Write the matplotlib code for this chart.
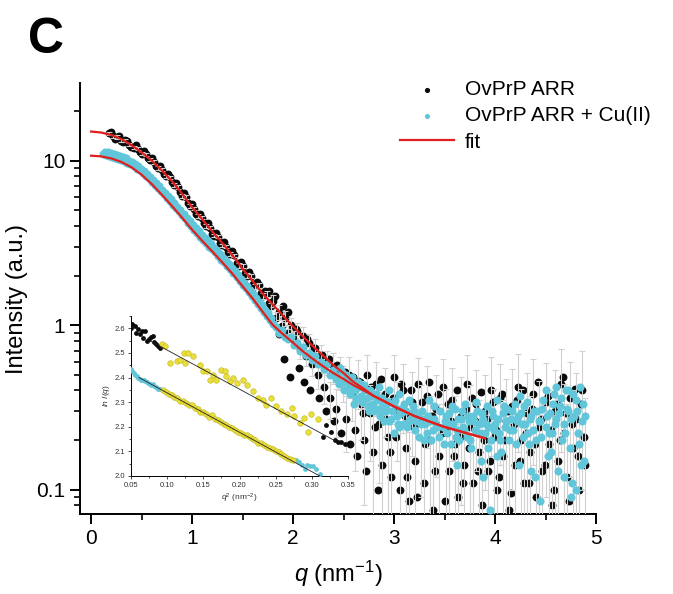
import numpy as np
import matplotlib
matplotlib.use('Agg')
import matplotlib.pyplot as plt
from matplotlib.ticker import FixedLocator, NullFormatter, MultipleLocator, LogLocator

plt.rcParams['font.family'] = ['Liberation Sans', 'DejaVu Sans']
plt.rcParams['mathtext.fontset'] = 'custom'
plt.rcParams['mathtext.rm'] = 'Liberation Sans'
plt.rcParams['mathtext.it'] = 'Liberation Sans:italic'

# ---- main panel data ----
# OvPrP ARR, low q, dense part
black_q_dense = [0.18, 0.22, 0.26, 0.30, 0.34, 0.38, 0.42, 0.46, 0.50, 0.54, 0.58, 0.62, 0.66, 0.70,
                 0.74, 0.78, 0.82, 0.86, 0.90, 0.94, 0.98, 1.02, 1.06, 1.10, 1.14, 1.18, 1.22, 1.26,
                 1.30, 1.34, 1.38, 1.42, 1.46, 1.50, 1.54, 1.58, 1.62, 1.66, 1.70, 1.74, 1.78]
black_I_dense = [14.6, 14.0, 13.9, 13.2, 13.3, 12.5, 12.0, 11.8, 11.0, 10.9, 10.1, 9.8, 9.0, 8.8,
                 8.0, 7.9, 7.1, 6.9, 6.1, 6.0, 5.3, 5.1, 4.6, 4.5, 4.0, 3.9, 3.5, 3.45,
                 3.05, 3.0, 2.7, 2.65, 2.3, 2.28, 2.0, 1.98, 1.72, 1.75, 1.50, 1.55, 1.30]
black_err_dense = [0.3, 0.3, 0.3, 0.3, 0.3, 0.28, 0.27, 0.26, 0.25, 0.24, 0.23, 0.22, 0.21, 0.2,
                   0.19, 0.18, 0.17, 0.16, 0.15, 0.14, 0.13, 0.12, 0.11, 0.1, 0.1, 0.09, 0.09, 0.08,
                   0.08, 0.08, 0.07, 0.07, 0.07, 0.07, 0.06, 0.06, 0.06, 0.06, 0.06, 0.06, 0.06]
black_q_dense2 = [0.20, 0.24, 0.28, 0.32, 0.36, 0.40, 0.44, 0.48, 0.52, 0.56, 0.60, 0.64, 0.68, 0.72,
                  0.76, 0.80, 0.84, 0.88, 0.92, 0.96, 1.00, 1.04, 1.08, 1.12, 1.16, 1.20, 1.24, 1.28,
                  1.32, 1.36, 1.40, 1.44, 1.48, 1.52, 1.56, 1.60, 1.64, 1.68, 1.72, 1.76,
                  1.76, 1.82, 1.90, 1.95, 1.86]
black_I_dense2 = [14.9, 13.6, 14.1, 12.9, 13.2, 12.1, 12.4, 11.2, 11.4, 10.3, 10.4, 9.3, 9.3, 8.3,
                  8.3, 7.4, 7.3, 6.4, 6.35, 5.55, 5.45, 4.75, 4.75, 4.15, 4.15, 3.6, 3.65, 3.15,
                  3.2, 2.78, 2.8, 2.38, 2.42, 2.06, 2.1, 1.78, 1.82, 1.56, 1.6, 1.36,
                  1.62, 1.5, 1.3, 1.2, 0.88]

# OvPrP ARR, high q, noisy part
black_q_far = [1.80, 1.83, 1.86, 1.89, 1.92, 1.95, 1.98, 2.01, 2.04, 2.07, 2.10, 2.13, 2.16, 2.19,
               2.22, 2.25, 2.28, 2.31, 2.34, 2.37, 2.40, 2.43, 2.46, 2.49, 2.52, 2.55, 2.58, 2.61,
               2.64, 2.67, 2.70, 2.73, 2.76, 2.79, 2.82, 2.85, 2.88, 2.91, 2.94, 2.97, 3.00, 3.03,
               3.06, 3.09, 3.12, 3.15, 3.18, 3.21, 3.24, 3.27, 3.30, 3.33, 3.36, 3.39, 3.42, 3.45,
               3.48, 3.51, 3.54, 3.57, 3.60, 3.63, 3.66, 3.69, 3.72, 3.75, 3.78, 3.81, 3.84, 3.87,
               3.90, 3.93, 3.96, 3.99, 4.02, 4.05, 4.08, 4.11, 4.14, 4.17, 4.20, 4.23, 4.26, 4.29,
               4.32, 4.35, 4.38, 4.41, 4.44, 4.47, 4.50, 4.53, 4.56, 4.59, 4.62, 4.65, 4.68, 4.71,
               4.74, 4.77, 4.80, 4.83, 4.86, 4.89]
black_I_far = [1.4, 1.1, 1.2, 0.98, 1.1, 0.9, 1.0, 0.82, 0.92, 0.72, 0.86, 0.65, 0.78, 0.58,
               0.72, 0.5, 0.66, 0.42, 0.6, 0.36, 0.56, 0.31, 0.52, 0.45, 0.27, 0.5, 0.38, 0.23,
               0.46, 0.33, 0.2, 0.5, 0.29, 0.17, 0.44, 0.25, 0.14, 0.38, 0.21, 0.12, 0.48, 0.3,
               0.1, 0.4, 0.18, 0.085, 0.34, 0.15, 0.44, 0.26, 0.11, 0.37, 0.2, 0.075, 0.31, 0.16,
               0.42, 0.23, 0.13, 0.35, 0.19, 0.09, 0.28, 0.14, 0.44, 0.24, 0.11, 0.33, 0.17, 0.08,
               0.3, 0.13, 0.4, 0.21, 0.1, 0.36, 0.16, 0.26, 0.075, 0.32, 0.14, 0.42, 0.2, 0.11,
               0.29, 0.17, 0.38, 0.09, 0.24, 0.13, 0.34, 0.19, 0.08, 0.3, 0.15, 0.44, 0.22, 0.12,
               0.36, 0.18, 0.27, 0.1, 0.4, 0.14]
black_err_far = [0.12, 0.1, 0.12, 0.1, 0.12, 0.1, 0.11, 0.1, 0.11, 0.1, 0.11, 0.09, 0.1, 0.09,
                 0.1, 0.09, 0.1, 0.09, 0.1, 0.09, 0.12, 0.1, 0.12, 0.11, 0.1, 0.14, 0.12, 0.1,
                 0.15, 0.13, 0.12, 0.16, 0.14, 0.12, 0.16, 0.14, 0.13, 0.17, 0.15, 0.13, 0.18, 0.15,
                 0.14, 0.18, 0.16, 0.14, 0.18, 0.16, 0.19, 0.17, 0.15, 0.19, 0.17, 0.15, 0.19, 0.17,
                 0.2, 0.18, 0.16, 0.2, 0.18, 0.16, 0.2, 0.18, 0.22, 0.19, 0.17, 0.2, 0.18, 0.17,
                 0.2, 0.18, 0.24, 0.2, 0.18, 0.22, 0.19, 0.21, 0.18, 0.22, 0.2, 0.25, 0.21, 0.19,
                 0.22, 0.2, 0.24, 0.2, 0.22, 0.2, 0.25, 0.21, 0.2, 0.23, 0.21, 0.27, 0.22, 0.21,
                 0.24, 0.22, 0.24, 0.21, 0.3, 0.22]
black_q_far2 = [1.91, 1.97, 2.03, 2.06, 2.11, 2.14, 2.17, 2.21, 2.26, 2.29, 2.33, 2.36, 2.41, 2.44,
                2.47, 2.51, 2.56, 2.59, 2.63, 2.66, 2.69, 2.72, 2.77, 2.81, 2.84, 2.87, 2.92, 2.96,
                2.99, 3.02, 3.07, 3.11, 3.13, 3.17, 3.20, 3.23, 3.28, 3.31, 3.35, 3.38, 3.41, 3.44,
                3.47, 3.50, 3.53, 3.56, 3.59, 3.62, 3.65, 3.68, 3.71, 3.74, 3.77, 3.80, 3.83, 3.86,
                3.89, 3.92, 3.95, 3.98, 4.01, 4.04, 4.07, 4.10, 4.13, 4.16, 4.19, 4.22, 4.25, 4.28,
                4.31, 4.34, 4.37, 4.40, 4.43, 4.46, 4.49, 4.52, 4.55, 4.58, 4.61, 4.64, 4.67, 4.70,
                4.73, 4.76, 4.79, 4.82, 4.85, 4.88]
black_I_far2 = [0.62, 0.48, 0.95, 0.55, 0.45, 0.82, 0.4, 0.72, 0.36, 0.66, 0.3, 0.62, 0.26, 0.57,
                0.22, 0.52, 0.19, 0.48, 0.16, 0.45, 0.29, 0.13, 0.42, 0.24, 0.1, 0.47, 0.27, 0.17,
                0.36, 0.21, 0.44, 0.28, 0.12, 0.4, 0.24, 0.09, 0.34, 0.19, 0.45, 0.28, 0.13, 0.38,
                0.22, 0.085, 0.33, 0.26, 0.16, 0.4, 0.21, 0.11, 0.31, 0.18, 0.36, 0.26, 0.13, 0.39,
                0.2, 0.27, 0.15, 0.34, 0.23, 0.12, 0.38, 0.2, 0.3, 0.095, 0.25, 0.35, 0.15, 0.4,
                0.22, 0.11, 0.31, 0.19, 0.45, 0.27, 0.14, 0.37, 0.23, 0.1, 0.33, 0.2, 0.48, 0.29,
                0.085, 0.25, 0.41, 0.16, 0.33, 0.21]

# OvPrP ARR + Cu(II)
cyan_q = [0.12, 0.15, 0.18, 0.21, 0.24, 0.27, 0.30, 0.33, 0.36, 0.39, 0.42, 0.45, 0.48, 0.51,
          0.54, 0.57, 0.60, 0.63, 0.66, 0.69, 0.72, 0.75, 0.78, 0.81, 0.84, 0.87, 0.90, 0.93,
          0.96, 0.99, 1.02, 1.05, 1.08, 1.11, 1.14, 1.17, 1.20, 1.23, 1.26, 1.29, 1.32, 1.35,
          1.38, 1.41, 1.44, 1.47, 1.50, 1.53, 1.56, 1.59, 1.62, 1.65, 1.68, 1.71, 1.74, 1.77,
          1.80, 1.83, 1.86, 1.89, 1.92, 1.95, 1.98, 2.01, 2.04, 2.07, 2.10, 2.13, 2.16, 2.19,
          2.22, 2.25, 2.28, 2.31, 2.34, 2.37, 2.40, 2.43, 2.46, 2.49, 2.52, 2.55, 2.58, 2.61,
          2.64, 2.67, 2.70, 2.73, 2.76, 2.79, 2.82, 2.85, 2.88, 2.91, 2.94, 2.97, 3.00, 3.03,
          3.06, 3.09, 3.12, 3.15, 3.18, 3.21, 3.24, 3.27, 3.30, 3.33, 3.36, 3.39, 3.42, 3.45,
          3.48, 2.60, 2.75, 2.90, 3.05, 3.20, 3.30, 3.40, 3.00, 3.15, 2.85,
          3.50, 3.52, 3.54, 3.56, 3.58, 3.60, 3.62, 3.64, 3.66, 3.68, 3.70, 3.72, 3.74, 3.76,
          3.78, 3.80, 3.82, 3.84, 3.86, 3.88, 3.90, 3.92, 3.94, 3.96, 3.98, 4.00, 4.02, 4.04,
          4.06, 4.08, 4.10, 4.12, 4.14, 4.16, 4.18, 4.20, 4.22, 4.24, 4.26, 4.28, 4.30, 4.32,
          4.34, 4.36, 4.38, 4.40, 4.42, 4.44, 4.46, 4.48, 4.50, 4.52, 4.54, 4.56, 4.58, 4.60,
          4.62, 4.64, 4.66, 4.68, 4.70, 4.72, 4.74, 4.76, 4.78, 4.80, 4.82, 4.84, 4.86, 4.88,
          3.95, 4.45, 4.75]
cyan_I = [10.9, 10.8, 10.7, 10.5, 10.4, 10.2, 10.1, 9.9, 9.7, 9.5, 9.2, 8.9, 8.7, 8.35,
          8.1, 7.8, 7.45, 7.1, 6.85, 6.5, 6.25, 5.95, 5.65, 5.4, 5.15, 4.9, 4.65, 4.45,
          4.2, 4.0, 3.8, 3.65, 3.45, 3.3, 3.15, 3.0, 2.9, 2.76, 2.64, 2.5, 2.4, 2.28,
          2.18, 2.08, 1.96, 1.86, 1.76, 1.67, 1.58, 1.5, 1.42, 1.35, 1.27, 1.2, 1.13, 1.07,
          1.01, 0.97, 0.9, 0.93, 0.85, 0.82, 0.84, 0.76, 0.78, 0.7, 0.74, 0.66, 0.68, 0.61,
          0.65, 0.58, 0.6, 0.54, 0.58, 0.5, 0.53, 0.47, 0.55, 0.45, 0.5, 0.42, 0.48, 0.4,
          0.45, 0.37, 0.43, 0.36, 0.4, 0.33, 0.38, 0.31, 0.36, 0.3, 0.34, 0.27, 0.33, 0.28,
          0.31, 0.25, 0.3, 0.26, 0.29, 0.23, 0.28, 0.25, 0.27, 0.22, 0.26, 0.23, 0.25, 0.21,
          0.24, 0.33, 0.3, 0.26, 0.24, 0.3, 0.2, 0.32, 0.22, 0.35, 0.42,
          0.26, 0.22, 0.29, 0.19, 0.25, 0.31, 0.23, 0.2, 0.27, 0.24, 0.33, 0.21, 0.26, 0.18,
          0.28, 0.23, 0.3, 0.25, 0.15, 0.27, 0.22, 0.32, 0.24, 0.2, 0.28, 0.25, 0.35, 0.22,
          0.17, 0.29, 0.24, 0.31, 0.2, 0.27, 0.23, 0.33, 0.26, 0.14, 0.29, 0.21, 0.25, 0.34,
          0.19, 0.28, 0.23, 0.12, 0.3, 0.26, 0.21, 0.35, 0.24, 0.16, 0.29, 0.22, 0.38, 0.27,
          0.13, 0.32, 0.2, 0.25, 0.4, 0.3, 0.18, 0.11, 0.28, 0.35, 0.22, 0.42, 0.26, 0.15,
          0.075, 0.085, 0.09]
cyan_q2 = [0.135, 0.165, 0.195, 0.225, 0.255, 0.285, 0.315, 0.345, 0.375, 0.405, 0.435, 0.465,
           0.495, 0.525, 0.555, 0.585, 0.615, 0.645, 0.675, 0.705, 0.735, 0.765, 0.795, 0.825,
           0.855, 0.885, 0.915, 0.945, 0.975, 1.005, 1.035, 1.065, 1.095, 1.125, 1.155, 1.185,
           1.215, 1.245, 1.275, 1.305, 1.335, 1.365, 1.395, 1.425, 1.455, 1.485, 1.515, 1.545,
           1.575, 1.605, 1.635, 1.665, 1.695, 1.725, 1.755, 1.785,
           2.42, 2.45, 2.48, 2.50, 2.53, 2.56, 2.59, 2.62, 2.65, 2.68, 2.71, 2.74, 2.77, 2.80,
           2.83, 2.86, 2.89, 2.92, 2.95, 2.98, 3.01, 3.04, 3.07, 3.10, 3.13, 3.16, 3.19, 3.22,
           3.25, 3.28, 3.31, 3.34, 3.37, 3.40, 3.43, 3.46, 3.49, 3.51, 3.55, 3.57, 3.61, 3.63,
           3.67, 3.69, 3.73, 3.75, 3.79, 3.81, 3.85, 3.87, 3.91, 3.93, 3.97, 3.99, 4.03, 4.05,
           4.09, 4.11, 4.15, 4.17, 4.21, 4.23, 4.27, 4.29, 4.33, 4.35, 4.39, 4.41, 4.45, 4.47,
           4.51, 4.53, 4.57, 4.59, 4.63, 4.65, 4.69, 4.71, 4.75, 4.77, 4.81, 4.83, 4.87, 4.89,
           3.62, 3.88, 4.02, 4.36, 4.55, 4.68, 4.80, 4.85, 4.60, 4.72, 4.50, 4.25, 3.35, 3.05,
           2.95]
cyan_I2 = [11.3, 11.2, 11.1, 11.0, 10.8, 10.7, 10.5, 10.3, 10.0, 9.8, 9.5, 9.2,
           8.9, 8.6, 8.3, 7.95, 7.6, 7.3, 7.0, 6.65, 6.35, 6.05, 5.8, 5.5,
           5.25, 5.0, 4.75, 4.5, 4.3, 4.08, 3.9, 3.72, 3.55, 3.38, 3.24, 3.1,
           2.96, 2.83, 2.7, 2.57, 2.46, 2.34, 2.23, 2.12, 2.02, 1.91, 1.81, 1.72,
           1.63, 1.55, 1.47, 1.39, 1.32, 1.24, 1.18, 1.11,
           0.5, 0.44, 0.52, 0.4, 0.46, 0.38, 0.44, 0.36, 0.42, 0.34, 0.4, 0.32, 0.37, 0.3,
           0.35, 0.28, 0.33, 0.32, 0.26, 0.3, 0.35, 0.25, 0.29, 0.33, 0.24, 0.27, 0.32, 0.26,
           0.21, 0.3, 0.25, 0.28, 0.2, 0.27, 0.24, 0.3, 0.19, 0.28, 0.25, 0.32, 0.21, 0.27,
           0.3, 0.23, 0.28, 0.2, 0.26, 0.34, 0.22, 0.29, 0.25, 0.18, 0.3, 0.23, 0.27, 0.2,
           0.32, 0.26, 0.23, 0.3, 0.19, 0.28, 0.25, 0.32, 0.22, 0.27, 0.3, 0.2, 0.26, 0.31,
           0.28, 0.22, 0.33, 0.25, 0.29, 0.36, 0.22, 0.31, 0.27, 0.38, 0.3, 0.19, 0.33, 0.28,
           0.14, 0.12, 0.16, 0.13, 0.17, 0.12, 0.1, 0.14, 0.42, 0.4, 0.4, 0.37, 0.35, 0.38,
           0.4]

# fits
fit_q = [0.0, 0.1, 0.2, 0.3, 0.4, 0.5, 0.6, 0.7, 0.8, 0.9, 1.0, 1.1, 1.2, 1.3, 1.4, 1.5, 1.6,
         1.7, 1.8, 1.9, 2.0, 2.1, 2.2, 2.3, 2.4, 2.5, 2.6, 2.7, 2.8, 2.9, 3.0, 3.2, 3.5, 3.9]
fit_black = [15.0, 14.8, 14.3, 13.5, 12.4, 11.2, 10.0, 8.7, 7.5, 6.3, 5.2, 4.4, 3.7, 3.15,
             2.65, 2.2, 1.85, 1.55, 1.33, 1.14, 0.98, 0.85, 0.74, 0.65, 0.57, 0.51, 0.45,
             0.41, 0.37, 0.345, 0.32, 0.28, 0.24, 0.205]
fit_cyan = [10.7, 10.6, 10.3, 9.8, 9.1, 8.2, 7.2, 6.2, 5.3, 4.5, 3.8, 3.25, 2.8, 2.4,
            2.05, 1.72, 1.45, 1.2, 1.0, 0.88, 0.78, 0.69, 0.62, 0.56, 0.51, 0.47, 0.43,
            0.40, 0.37, 0.345, 0.32, 0.28, 0.24, 0.205]

# ---- inset (Guinier) data ----
top_q2 = [0.050, 0.052, 0.055, 0.057, 0.060, 0.062, 0.065, 0.067, 0.070, 0.072, 0.075, 0.077,
          0.080, 0.082, 0.085, 0.087, 0.090,
          0.093, 0.097, 0.104, 0.113, 0.118, 0.123, 0.125, 0.129, 0.136, 0.146, 0.150, 0.155,
          0.159, 0.164, 0.168, 0.175, 0.180, 0.182, 0.187, 0.191, 0.196, 0.205, 0.210, 0.219,
          0.226, 0.233, 0.237, 0.244, 0.251, 0.258, 0.265, 0.272, 0.276, 0.283, 0.289, 0.295,
          0.299, 0.309,
          0.315, 0.320, 0.326, 0.332, 0.336, 0.340, 0.346]
top_lnI = [2.600, 2.616, 2.610, 2.580, 2.596, 2.576, 2.590, 2.560, 2.590, 2.550, 2.556, 2.566,
           2.570, 2.545, 2.535, 2.530, 2.520,
           2.535, 2.530, 2.460, 2.466, 2.470, 2.500, 2.460, 2.500, 2.487, 2.450, 2.426, 2.426,
           2.390, 2.410, 2.390, 2.430, 2.426, 2.405, 2.385, 2.400, 2.378, 2.390, 2.370, 2.345,
           2.317, 2.310, 2.290, 2.317, 2.283, 2.263, 2.250, 2.276, 2.242, 2.215, 2.235, 2.180,
           2.250, 2.230,
           2.160, 2.208, 2.180, 2.147, 2.140, 2.140, 2.130]
bot_q2 = [0.050, 0.052, 0.054, 0.056, 0.058, 0.060, 0.062, 0.064, 0.066, 0.068, 0.070, 0.072,
          0.074, 0.076, 0.078, 0.080, 0.082, 0.084, 0.086, 0.088, 0.090,
          0.094, 0.098, 0.102, 0.106, 0.110, 0.114, 0.118, 0.122, 0.126, 0.130, 0.134, 0.138,
          0.142, 0.146, 0.150, 0.154, 0.158, 0.162, 0.166, 0.170, 0.174, 0.178, 0.182, 0.186,
          0.190, 0.194, 0.198, 0.202, 0.206, 0.210, 0.214, 0.218, 0.222, 0.226, 0.230, 0.234,
          0.238, 0.242, 0.246, 0.250, 0.254, 0.258, 0.262, 0.266, 0.270, 0.274,
          0.278, 0.282, 0.286, 0.290, 0.294, 0.298, 0.302, 0.306, 0.311]
bot_lnI = [2.435, 2.425, 2.420, 2.410, 2.405, 2.400, 2.395, 2.392, 2.390, 2.388, 2.385, 2.380,
           2.378, 2.374, 2.370, 2.372, 2.365, 2.360, 2.356, 2.354, 2.352,
           2.350, 2.342, 2.333, 2.330, 2.322, 2.318, 2.306, 2.305, 2.296, 2.290, 2.287, 2.275,
           2.272, 2.262, 2.258, 2.252, 2.240, 2.248, 2.232, 2.228, 2.221, 2.210, 2.206, 2.200,
           2.197, 2.188, 2.178, 2.176, 2.166, 2.165, 2.158, 2.150, 2.146, 2.135, 2.133, 2.126,
           2.118, 2.112, 2.108, 2.100, 2.096, 2.090, 2.082, 2.075, 2.070, 2.066,
           2.065, 2.055, 2.045, 2.030, 2.045, 2.040, 2.040, 2.030, 2.010]
top_guinier = (0.091, 0.312)
bot_guinier = (0.091, 0.276)
top_line_q2 = [0.077, 0.334]
top_line = [2.548, 2.140]
bot_line_q2 = [0.061, 0.311]
bot_line = [2.400, 2.000]

BLACK = '#0a0a0a'
CYAN = '#62c6da'
RED = '#e0201e'
YELLOW = '#e8df3a'
GREY = '#d0d0d0'

fig = plt.figure(figsize=(6.73, 5.94), dpi=100)
ax = fig.add_axes([80 / 673, 80 / 594, 516 / 673, 431 / 594])

bq = np.array(black_q_dense + black_q_far)
bI = np.array(black_I_dense + black_I_far)
be = np.array(black_err_dense + black_err_far)
lo = np.minimum(be, bI - 0.01)

ax.scatter(black_q_dense2 + black_q_far2, black_I_dense2 + black_I_far2, s=32, color=BLACK,
           lw=0, zorder=2)
ax.scatter(bq, bI, s=32, color=BLACK, lw=0, zorder=2)
ax.errorbar(bq, bI, yerr=[lo, be], fmt='none', ecolor=GREY, elinewidth=0.8,
            capsize=2.5, capthick=0.8, zorder=3)
ax.scatter(cyan_q2, cyan_I2, s=34, color=CYAN, lw=0, zorder=4)
ax.scatter(cyan_q, cyan_I, s=34, color=CYAN, lw=0, zorder=4)
ax.plot(fit_q, fit_black, color=RED, lw=1.6, zorder=5)
ax.plot(fit_q, fit_cyan, color=RED, lw=1.6, zorder=5)

ax.set_yscale('log')
ax.set_xlim(-0.11, 5.0)
ax.set_ylim(0.071, 29.6)
ax.spines['top'].set_visible(False)
ax.spines['right'].set_visible(False)
for s in ('left', 'bottom'):
    ax.spines[s].set_linewidth(1.4)
ax.xaxis.set_major_locator(MultipleLocator(1))
ax.xaxis.set_minor_locator(MultipleLocator(0.5))
ax.yaxis.set_major_locator(FixedLocator([0.1, 1, 10]))
ax.yaxis.set_minor_locator(LogLocator(base=10, subs=np.arange(2, 10)))
ax.yaxis.set_minor_formatter(NullFormatter())
ax.set_yticklabels(['0.1', '1', '10'])
ax.tick_params(which='major', direction='out', length=7, width=1.4, labelsize=15)
ax.tick_params(which='minor', direction='out', length=4, width=1.2)
ax.set_xlabel(r'$q$ (nm$^{-1}$)', fontsize=17, labelpad=8)
ax.set_ylabel('Intensity (a.u.)', fontsize=17, labelpad=6)

# legend
h1 = ax.scatter([], [], s=14, color=BLACK, lw=0)
h2 = ax.scatter([], [], s=14, color=CYAN, lw=0)
h3, = ax.plot([], [], color=RED, lw=1.6)
fig.legend([h1, h2, h3], ['OvPrP ARR', 'OvPrP ARR + Cu(II)', 'fit'],
           loc='upper left', bbox_to_anchor=(400 / 673, 1 - 80 / 594), frameon=False,
           fontsize=15, handlelength=2.6, handletextpad=0.5, labelspacing=0.35,
           borderpad=0, borderaxespad=0)

fig.text(28 / 673, 1 - 40 / 594, 'C', fontsize=36, fontweight='bold', va='center', ha='left')

# inset
ins = fig.add_axes([131 / 673, 118 / 594, 217 / 673, 160 / 594])
ins.patch.set_alpha(0)
tq = np.array(top_q2)
tl = np.array(top_lnI)
gq = (tq > top_guinier[0]) & (tq < top_guinier[1])
ins.scatter(tq[~gq], tl[~gq], s=12, color=BLACK, lw=0, zorder=3)
ins.scatter(tq[gq], tl[gq], s=16, color=YELLOW, edgecolor='#c2b520', lw=0.4, zorder=3)
cq = np.array(bot_q2)
cl = np.array(bot_lnI)
gc = (cq > bot_guinier[0]) & (cq < bot_guinier[1])
ins.scatter(cq[~gc], cl[~gc], s=12, color=CYAN, lw=0, zorder=3)
ins.scatter(cq[gc], cl[gc], s=16, color=YELLOW, edgecolor='#c2b520', lw=0.4, zorder=3)
ins.plot(top_line_q2, top_line, color='#222222', lw=0.6, zorder=4)
ins.plot(bot_line_q2, bot_line, color='#222222', lw=0.6, zorder=4)
ins.set_xlim(0.05, 0.35)
ins.set_ylim(2.0, 2.65)
ins.spines['top'].set_visible(False)
ins.spines['right'].set_visible(False)
for s in ('left', 'bottom'):
    ins.spines[s].set_linewidth(0.7)
ins.xaxis.set_major_locator(MultipleLocator(0.05))
ins.xaxis.set_minor_locator(MultipleLocator(0.025))
ins.yaxis.set_major_locator(MultipleLocator(0.1))
ins.yaxis.set_minor_locator(MultipleLocator(0.05))
ins.set_xticklabels(['%.2f' % v for v in ins.get_xticks()])
ins.set_yticklabels(['%.1f' % v for v in ins.get_yticks()])
ins.tick_params(which='major', direction='out', length=2.5, width=0.6, labelsize=5.5,
                pad=1.5, colors='#333333')
ins.tick_params(which='minor', direction='out', length=1.5, width=0.5)
ins.set_xlabel(r'$q^2$ (nm$^{-2}$)', fontsize=6, labelpad=2, color='#333333')
ins.set_ylabel(r'$ln\ I(q)$', fontsize=6, labelpad=2, color='#333333')

fig.savefig('out.png', dpi=100)
